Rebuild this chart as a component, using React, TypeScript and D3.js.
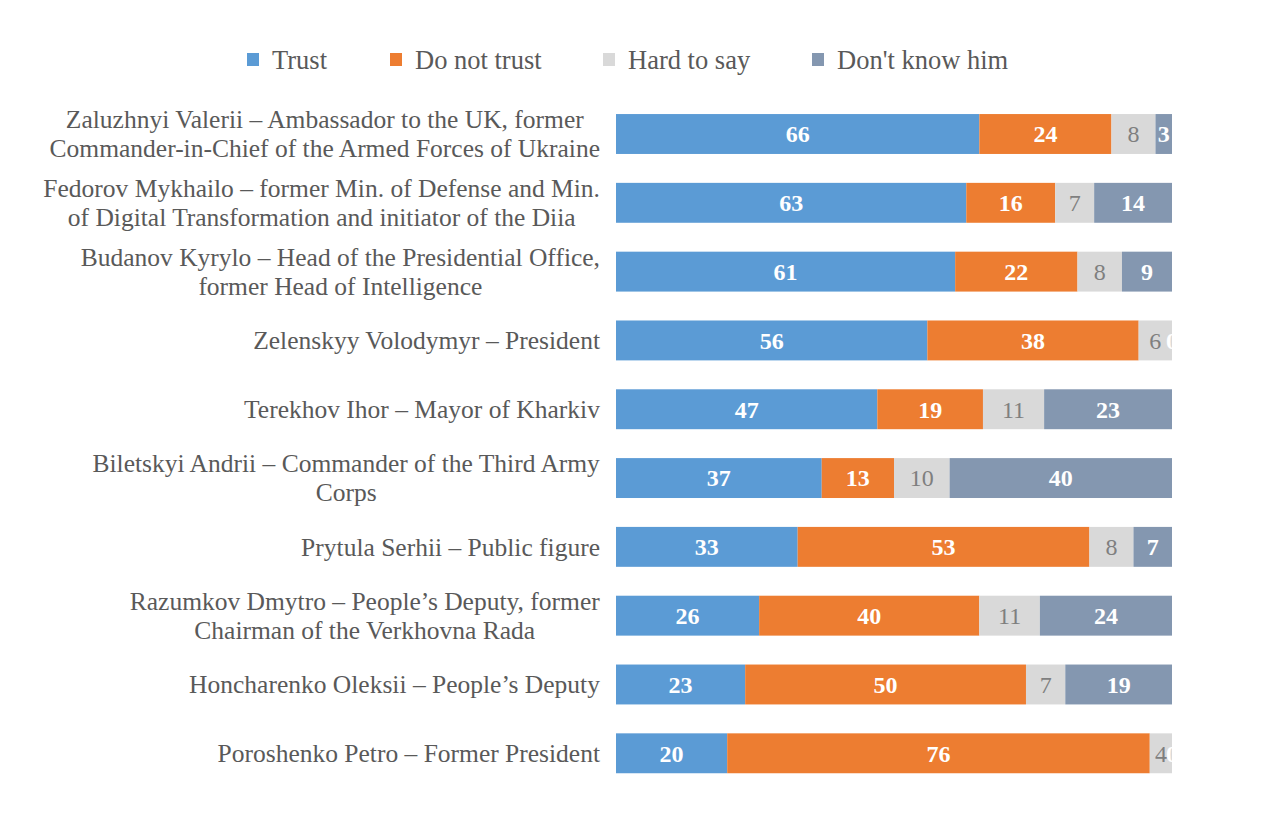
import React, { useEffect, useRef } from 'react';
import * as d3 from 'd3';

const categories = [
  'Zaluzhnyi Valerii – Ambassador to the UK, former\nCommander-in-Chief of the Armed Forces of Ukraine',
  'Fedorov Mykhailo – former Min. of Defense and Min.\nof Digital Transformation and initiator of the Diia',
  'Budanov Kyrylo – Head of the Presidential Office,\nformer Head of Intelligence',
  'Zelenskyy Volodymyr – President',
  'Terekhov Ihor – Mayor of Kharkiv',
  'Biletskyi Andrii – Commander of the Third Army\nCorps',
  'Prytula Serhii – Public figure',
  'Razumkov Dmytro – People’s Deputy, former\nChairman of the Verkhovna Rada',
  'Honcharenko Oleksii – People’s Deputy',
  'Poroshenko Petro – Former President',
];

const trust = [66, 63, 61, 56, 47, 37, 33, 26, 23, 20];
const doNotTrust = [24, 16, 22, 38, 19, 13, 53, 40, 50, 76];
const hardToSay = [8, 7, 8, 6, 11, 10, 8, 11, 7, 4];
const dontKnow = [3, 14, 9, 0, 23, 40, 7, 24, 19, 0];

const seriesNames = ['Trust', 'Do not trust', 'Hard to say', "Don't know him"];
const colors = ['#5b9bd5', '#ed7d31', '#d9d9d9', '#8497b0'];
const labelColors = ['#ffffff', '#ffffff', '#7f7f7f', '#ffffff'];

export default () => {
  const svgRef = useRef<SVGSVGElement>(null);

  useEffect(() => {
    if (!svgRef.current) return;
    const svg = d3.select(svgRef.current);
    svg.selectAll('*').remove();

    const font = '"Liberation Serif", "Times New Roman", serif';
    const keys = ['t', 'd', 'h', 'k'];
    const rows = categories.map((c, i) => ({
      cat: c,
      t: trust[i],
      d: doNotTrust[i],
      h: hardToSay[i],
      k: dontKnow[i],
    }));

    // 100% stacked, like the source chart
    const stack = d3.stack<any>().keys(keys).offset(d3.stackOffsetExpand);
    const stacked = stack(rows);

    const x = d3.scaleLinear().domain([0, 1]).range([616, 1172]);
    const y = d3.scaleBand<string>()
      .domain(categories)
      .range([99.6, 787.7])
      .paddingInner(0.42)
      .paddingOuter(0.21);

    svg.append('defs').append('clipPath').attr('id', 'plot')
      .append('rect')
      .attr('x', x(0)).attr('y', 0)
      .attr('width', x(1) - x(0)).attr('height', 832);

    const plot = svg.append('g').attr('clip-path', 'url(#plot)');

    stacked.forEach((s, si) => {
      const g = plot.append('g');
      g.selectAll('rect')
        .data(s)
        .enter()
        .append('rect')
        .attr('x', d => x(d[0]))
        .attr('y', d => y(d.data.cat) as number)
        .attr('width', d => x(d[1]) - x(d[0]))
        .attr('height', y.bandwidth())
        .attr('fill', colors[si]);

      g.selectAll('text')
        .data(s)
        .enter()
        .append('text')
        .attr('x', d => (x(d[0]) + x(d[1])) / 2)
        .attr('y', d => (y(d.data.cat) as number) + y.bandwidth() / 2)
        .attr('dy', '0.35em')
        .attr('text-anchor', 'middle')
        .attr('font-family', font)
        .attr('font-size', 24)
        .attr('font-weight', si === 2 ? 'normal' : 'bold')
        .attr('fill', labelColors[si])
        .text(d => String(d.data[keys[si]]));
    });

    // category labels
    const lab = svg.append('g');
    categories.forEach(c => {
      const lines = c.split('\n');
      const cy = (y(c) as number) + y.bandwidth() / 2;
      const lh = 29;
      const t = lab.append('text')
        .attr('text-anchor', 'middle')
        .attr('font-family', font)
        .attr('font-size', 25.5)
        .attr('fill', '#595959');
      lines.forEach((line, li) => {
        t.append('tspan')
          .attr('x', 0)
          .attr('y', cy + (li - (lines.length - 1) / 2) * lh)
          .attr('dy', '0.35em')
          .text(line);
      });
      // right align the block, center lines inside it
      const w = (t.node() as SVGTextElement).getBBox().width;
      t.attr('transform', `translate(${600 - w / 2},0)`);
    });

    // legend
    const legendX = [247, 390, 603, 812];
    const leg = svg.append('g');
    seriesNames.forEach((n, i) => {
      leg.append('rect')
        .attr('x', legendX[i]).attr('y', 53)
        .attr('width', 12).attr('height', 13)
        .attr('fill', colors[i]);
      leg.append('text')
        .attr('x', legendX[i] + 25).attr('y', 60)
        .attr('dy', '0.35em')
        .attr('font-family', font)
        .attr('font-size', 26.5)
        .attr('fill', '#595959')
        .text(n);
    });
  }, []);

  return (
    <svg
      ref={svgRef}
      width={1273}
      height={832}
      style={{ position: 'absolute', left: 0, top: 0, background: '#fff' }}
    />
  );
};
